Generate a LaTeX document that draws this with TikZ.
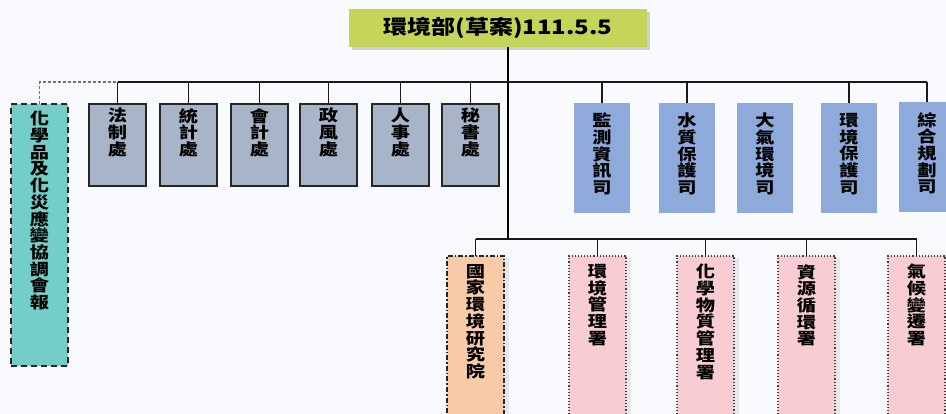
\documentclass[tikz,border=0pt]{standalone}
\usepackage{fontspec}
\newfontfamily\cjk[FakeStretch=1.2]{Noto Sans CJK TC}
\usetikzlibrary{shadows}
\definecolor{titlegreen}{HTML}{C4D55A}
\definecolor{tealfill}{HTML}{73CDC8}
\definecolor{grayfill}{HTML}{A8B4C8}
\definecolor{bluefill}{HTML}{8EAADB}
\definecolor{orangefill}{HTML}{F8CBA8}
\definecolor{pinkfill}{HTML}{F7CCD3}
\definecolor{pagebg}{HTML}{F8FAFD}
\tikzset{
  vtext/.style={
    anchor=north,
    inner sep=0pt,
    align=center,
    font=\cjk\bfseries\fontsize{16}{16.7}\selectfont
    },
  headbox/.style={
    rectangle,
    inner sep=0pt,
    minimum width=298pt,
    minimum height=38pt,
    fill=titlegreen,
    font=\cjk\bfseries\fontsize{20}{20}\selectfont,
    drop shadow={opacity=0.35, shadow xshift=3pt, shadow yshift=-3pt}
    },
  unit/.style={
    rectangle,
    anchor=north west,
    inner sep=0pt,
    outer sep=0pt,
    minimum width=57pt
    },
  council/.style={
    unit,
    minimum height=262pt,
    draw=black!85,
    line width=1.8pt,
    dash pattern=on 6pt off 4pt,
    fill=tealfill
    },
  office/.style={
    unit,
    minimum height=82pt,
    draw=black!85,
    line width=1.2pt,
    fill=grayfill
    },
  dept/.style={
    unit,
    minimum width=56pt,
    minimum height=110pt,
    fill=bluefill
    },
  institute/.style={
    unit,
    minimum height=175pt,
    draw=black!85,
    line width=1.4pt,
    dash pattern=on 5pt off 2pt on 1.5pt off 2pt,
    fill=orangefill,
    drop shadow={opacity=0.15, shadow xshift=5pt, shadow yshift=-2pt}
    },
  agency/.style={
    unit,
    minimum height=175pt,
    draw=black!75,
    line width=1.1pt,
    dotted,
    fill=pinkfill,
    drop shadow={opacity=0.15, shadow xshift=5pt, shadow yshift=-2pt}
    },
  link/.style={draw=black!90, line width=1.3pt},
  dashlink/.style={draw=black!55, line width=1.1pt, dash pattern=on 3pt off 2pt},
  trunk/.style={draw=black, line width=2.4pt}
}

\begin{document}
\begin{tikzpicture}[x=1pt, y=-1pt]
\useasboundingbox (0,0) rectangle (946,414);
\clip (0,0) rectangle (946,414);
\fill[pagebg] (0,0) rectangle (946,414);

\node (head) [headbox] at (498,28) {環境部(草案)111.5.5};
\coordinate (topbus) at (508,82);
\coordinate (lowbus) at (508,239);

% left side
\node (huaxue) [council, label={[vtext,yshift=-7pt]north:化\\學\\品\\及\\化\\災\\應\\變\\協\\調\\會\\報}] at (11,104) {};
\node (fazhi) [office, label={[vtext,yshift=-4pt]north:法\\制\\處}] at (89,104) {};
\node (tongji) [office, label={[vtext,yshift=-4pt]north:統\\計\\處}] at (160,104) {};
\node (kuaiji) [office, label={[vtext,yshift=-4pt]north:會\\計\\處}] at (231,104) {};
\node (zhengfeng) [office, label={[vtext,yshift=-4pt]north:政\\風\\處}] at (300,104) {};
\node (renshi) [office, label={[vtext,yshift=-4pt]north:人\\事\\處}] at (372,104) {};
\node (mishu) [office, label={[vtext,yshift=-4pt]north:秘\\書\\處}] at (442,104) {};

% right side
\node (jiance) [dept, label={[vtext,yshift=-10pt]north:監\\測\\資\\訊\\司}] at (574,103) {};
\node (shuizhi) [dept, label={[vtext,yshift=-10pt]north:水\\質\\保\\護\\司}] at (659,103) {};
\node (daqi) [dept, label={[vtext,yshift=-10pt]north:大\\氣\\環\\境\\司}] at (737,103) {};
\node (huanbao) [dept, label={[vtext,yshift=-10pt]north:環\\境\\保\\護\\司}] at (821,103) {};
\node (zonghe) [dept, label={[vtext,yshift=-10pt]north:綜\\合\\規\\劃\\司}] at (899,102) {};

% lower row
\node (guojia) [institute, label={[vtext,yshift=-8pt]north:國\\家\\環\\境\\研\\究\\院}] at (447,256) {};
\node (huanguan) [agency, label={[vtext,yshift=-8pt]north:環\\境\\管\\理\\署}] at (569,256) {};
\node (huawu) [agency, label={[vtext,yshift=-8pt]north:化\\學\\物\\質\\管\\理\\署}] at (677,256) {};
\node (ziyuan) [agency, label={[vtext,yshift=-8pt]north:資\\源\\循\\環\\署}] at (778,256) {};
\node (qihou) [agency, label={[vtext,yshift=-8pt]north:氣\\候\\變\\遷\\署}] at (888,256) {};

% lines
\draw[trunk] (head.south -| topbus) -- (lowbus);
\draw[dashlink] (huaxue.north) -- (huaxue.north |- topbus) -- (fazhi.north |- topbus);
\draw[link] (fazhi.north |- topbus) -- (zonghe.north |- topbus);
\draw[link] (fazhi.north |- topbus) -- (fazhi.north);
\draw[link] (tongji.north |- topbus) -- (tongji.north);
\draw[link] (kuaiji.north |- topbus) -- (kuaiji.north);
\draw[link] (zhengfeng.north |- topbus) -- (zhengfeng.north);
\draw[link] (renshi.north |- topbus) -- (renshi.north);
\draw[link] (mishu.north |- topbus) -- (mishu.north);
\draw[link] (jiance.north |- topbus) -- (jiance.north);
\draw[link] (shuizhi.north |- topbus) -- (shuizhi.north);
\draw[link] (huanbao.north |- topbus) -- (huanbao.north);
\draw[link] (zonghe.north |- topbus) -- (zonghe.north);
\draw[link] (guojia.north |- lowbus) -- (qihou.north |- lowbus);
\draw[link] (guojia.north |- lowbus) -- (guojia.north);
\draw[link] (huanguan.north |- lowbus) -- (huanguan.north);
\draw[link] (huawu.north |- lowbus) -- (huawu.north);
\draw[link] (ziyuan.north |- lowbus) -- (ziyuan.north);
\draw[link] (qihou.north |- lowbus) -- (qihou.north);
\end{tikzpicture}
\end{document}
